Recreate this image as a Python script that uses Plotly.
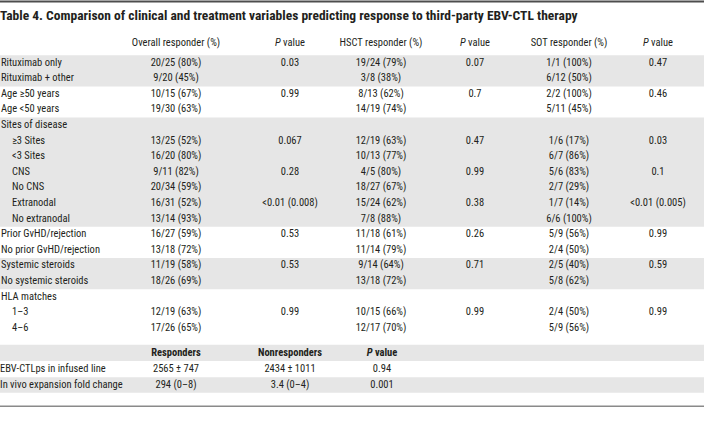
import plotly.graph_objects as go

# ---------------- data ----------------
title = "Table 4. Comparison of clinical and treatment variables predicting response to third-party EBV-CTL therapy"

col_headers = ["Overall responder (%)", "<i>P</i> value", "HSCT responder (%)", "<i>P</i> value",
               "SOT responder (%)", "<i>P</i> value"]

labels = ["Rituximab only", "Rituximab + other", "Age ≥50 years", "Age <50 years",
          "Sites of disease", "≥3 Sites", "<3 Sites", "CNS", "No CNS", "Extranodal",
          "No extranodal", "Prior GvHD/rejection", "No prior GvHD/rejection",
          "Systemic steroids", "No systemic steroids", "HLA matches", "1–3", "4–6"]
indent = [0, 0, 0, 0, 0, 1, 1, 1, 1, 1, 1, 0, 0, 0, 0, 0, 1, 1]

overall = ["20/25 (80%)", "9/20 (45%)", "10/15 (67%)", "19/30 (63%)", "", "13/25 (52%)",
           "16/20 (80%)", "9/11 (82%)", "20/34 (59%)", "16/31 (52%)", "13/14 (93%)",
           "16/27 (59%)", "13/18 (72%)", "11/19 (58%)", "18/26 (69%)", "", "12/19 (63%)",
           "17/26 (65%)"]
p_overall = ["0.03", "", "0.99", "", "", "0.067", "", "0.28", "", "<0.01 (0.008)", "",
             "0.53", "", "0.53", "", "", "0.99", ""]
hsct = ["19/24 (79%)", "3/8 (38%)", "8/13 (62%)", "14/19 (74%)", "", "12/19 (63%)",
        "10/13 (77%)", "4/5 (80%)", "18/27 (67%)", "15/24 (62%)", "7/8 (88%)",
        "11/18 (61%)", "11/14 (79%)", "9/14 (64%)", "13/18 (72%)", "", "10/15 (66%)",
        "12/17 (70%)"]
p_hsct = ["0.07", "", "0.7", "", "", "0.47", "", "0.99", "", "0.38", "", "0.26", "",
          "0.71", "", "", "0.99", ""]
sot = ["1/1 (100%)", "6/12 (50%)", "2/2 (100%)", "5/11 (45%)", "", "1/6 (17%)",
       "6/7 (86%)", "5/6 (83%)", "2/7 (29%)", "1/7 (14%)", "6/6 (100%)", "5/9 (56%)",
       "2/4 (50%)", "2/5 (40%)", "5/8 (62%)", "", "2/4 (50%)", "5/9 (56%)"]
p_sot = ["0.47", "", "0.46", "", "", "0.03", "", "0.1", "", "<0.01 (0.005)", "", "0.99",
         "", "0.59", "", "", "0.99", ""]

# row groups that are shaded (start row, end row)
shaded_groups = [(0, 1), (4, 10), (13, 14)]

lower_headers = ["Responders", "Nonresponders", "<i>P</i> value"]
lower_labels = ["EBV-CTLps in infused line", "In vivo expansion fold change"]
responders = ["2565 ± 747", "294 (0–8)"]
nonresponders = ["2434 ± 1011", "3.4 (0–4)"]
p_lower = ["0.94", "0.001"]

# ---------------- layout helpers ----------------
FONT = "Noto Sans Condensed, Roboto Condensed, Liberation Sans Narrow, Roboto, sans-serif"
TXT = "#231f20"
GRAY = "#e6e6e6"
FS = 10.5

n = len(labels)
rows = list(range(n))
header_y = -1.28
title_y = -2.95
lower_header_y = 18.6
lower_rows = [19.62, 20.64]

label_x = [1 + 11 * k for k in indent]
col_x = [176, 290, 381, 475, 569, 658]
lower_x = [176, 290, 382]

fig = go.Figure()

def text_trace(xs, ys, texts, pos="middle center", size=FS, bold=False):
    if bold:
        texts = ["<b>%s</b>" % t if t else t for t in texts]
    fig.add_trace(go.Scatter(
        x=xs, y=ys, text=texts, mode="text", textposition=pos,
        textfont=dict(family=FONT, size=size, color=TXT),
        hoverinfo="skip", showlegend=False, cliponaxis=False))

# title
text_trace([0], [title_y], [title], pos="middle right", size=13.5, bold=True)
# header
text_trace(col_x, [header_y] * len(col_x), col_headers)
# body labels
text_trace(label_x, rows, labels, pos="middle right")
for cx, col in zip(col_x, [overall, p_overall, hsct, p_hsct, sot, p_sot]):
    text_trace([cx] * n, rows, col)

# lower table
text_trace(lower_x, [lower_header_y] * 3, lower_headers, bold=True)
text_trace([0] * len(lower_labels), lower_rows, lower_labels, pos="middle right")
for cx, col in zip(lower_x, [responders, nonresponders, p_lower]):
    text_trace([cx] * len(col), lower_rows, col)

shapes = []
for a, b in shaded_groups:
    shapes.append(dict(type="rect", xref="paper", yref="y", x0=0, x1=1,
                       y0=a - 0.5, y1=b + 0.5, fillcolor=GRAY, line_width=0, layer="below"))
shapes.append(dict(type="rect", xref="paper", yref="y", x0=0, x1=1,
                   y0=lower_header_y - 0.54, y1=lower_header_y + 0.5,
                   fillcolor=GRAY, line_width=0, layer="below"))
shapes.append(dict(type="rect", xref="paper", yref="y", x0=0, x1=1,
                   y0=lower_rows[1] - 0.5, y1=lower_rows[1] + 0.5,
                   fillcolor=GRAY, line_width=0, layer="below"))
# rules
shapes.append(dict(type="line", xref="paper", yref="y", x0=0, x1=1, y0=-3.95, y1=-3.95,
                   line=dict(color="#4d4d4d", width=2)))
shapes.append(dict(type="line", xref="paper", yref="y", x0=0, x1=1, y0=22.0, y1=22.0,
                   line=dict(color="#8a8a8a", width=1.6)))

fig.update_layout(
    width=704, height=436, margin=dict(l=0, r=0, t=0, b=0),
    paper_bgcolor="white", plot_bgcolor="white",
    xaxis=dict(range=[0, 704], visible=False, fixedrange=True),
    yaxis=dict(range=[23.91, -4.04], visible=False, fixedrange=True),
    shapes=shapes, showlegend=False,
)

fig.write_html("out.html", config={"displayModeBar": False},
               post_script="document.body.style.margin='0';")
